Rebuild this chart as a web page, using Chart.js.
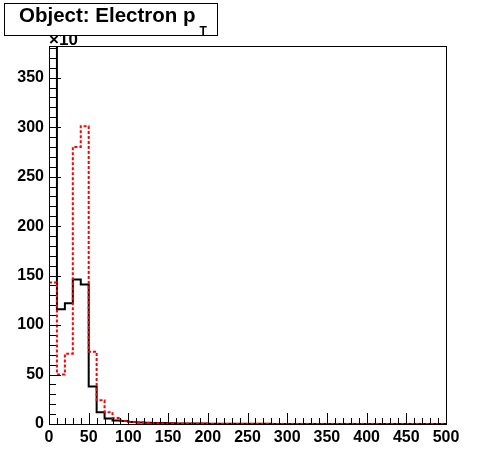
<!DOCTYPE html>
<html>
<head>
<meta charset="utf-8">
<script src="https://cdn.jsdelivr.net/npm/chart.js@4"></script>
<style>
  html, body { margin: 0; padding: 0; background: #fff; }
  #wrap { width: 496px; height: 472px; position: relative; }
</style>
</head>
<body>
<div id="wrap"><canvas id="ptChart"></canvas></div>
<script>
// Histogram binning: 50 bins of width 10 GeV from 0 to 500
const binWidth = 10;
const binEdges = Array.from({ length: 51 }, (_, i) => i * binWidth);

// Black solid histogram (bin 0 goes off the top of the frame)
const blackCounts = [
    420, 116, 122, 146, 141, 38, 12, 5.5, 3.5, 3,
    2, 1.6, 1.3, 1.1, 0.9, 0.7, 0.6, 0.5, 0.4, 0.4,
    0.3, 0.3, 0.3, 0.2, 0.2, 0.2, 0.2, 0.2, 0.1, 0.1,
    0.1, 0.1, 0.1, 0.1, 0.1, 0.1, 0.1, 0.1, 0.1, 0.1,
    0.1, 0.1, 0.1, 0.1, 0.1, 0.1, 0.1, 0.1, 0.1, 0.1
];

// Red dotted histogram
const redCounts = [
    143, 50, 71, 280, 301, 73, 24, 12, 6, 3,
    2, 1.4, 1, 0.7, 0.5, 0.4, 0.3, 0.2, 0.2, 0.2,
    0.1, 0.1, 0.1, 0.1, 0.1, 0, 0, 0, 0, 0,
    0, 0, 0, 0, 0, 0, 0, 0, 0, 0,
    0, 0, 0, 0, 0, 0, 0, 0, 0, 0
];

const xTicks = [0, 50, 100, 150, 200, 250, 300, 350, 400, 450, 500];
const yTicks = [0, 50, 100, 150, 200, 250, 300, 350];

const titleText = 'Object: Electron p';
const titleSub = 'T';
const yExponent = '\u00d710';

// step points: left edge of each bin, plus closing point at the last edge
function toSteps(counts) {
    const pts = counts.map((c, i) => ({ x: binEdges[i], y: c }));
    pts.push({ x: binEdges[counts.length], y: counts[counts.length - 1] });
    return pts;
}

const FONT = '"Liberation Sans", Arial, Helvetica, sans-serif';

// ROOT-like frame with inward ticks, title box and axis exponent
const rootFrame = {
    id: 'rootFrame',
    afterDraw(chart) {
        const { ctx, chartArea: a, scales } = chart;
        const xs = scales.x, ys = scales.y;
        ctx.save();
        ctx.strokeStyle = '#000';
        ctx.lineWidth = 1;
        ctx.strokeRect(Math.round(a.left) + 0.5, Math.round(a.top) + 0.5,
            Math.round(a.right - a.left), Math.round(a.bottom - a.top));

        ctx.beginPath();
        for (let v = 0; v <= 500; v += 10) {
            const px = Math.round(xs.getPixelForValue(v)) + 0.5;
            const len = v % 50 === 0 ? 11 : 6;
            ctx.moveTo(px, a.bottom);
            ctx.lineTo(px, a.bottom - len);
        }
        for (let v = 0; v <= ys.max; v += 10) {
            const py = Math.round(ys.getPixelForValue(v)) + 0.5;
            const len = v % 50 === 0 ? 12 : 7;
            ctx.moveTo(a.left, py);
            ctx.lineTo(a.left + len, py);
        }
        ctx.stroke();

        // exponent label, partly hidden under the title box
        ctx.fillStyle = '#000';
        ctx.font = 'bold 17px ' + FONT;
        ctx.textBaseline = 'alphabetic';
        ctx.textAlign = 'left';
        ctx.fillText(yExponent, 49, 45);

        // title box
        ctx.fillStyle = '#fff';
        ctx.fillRect(4.5, 3.5, 213, 32);
        ctx.strokeRect(4.5, 3.5, 213, 32);
        ctx.fillStyle = '#000';
        ctx.font = 'bold 20.5px ' + FONT;
        ctx.fillText(titleText, 19, 22);
        const w = ctx.measureText(titleText).width;
        ctx.font = 'bold 12px ' + FONT;
        ctx.fillText(titleSub, 19 + w + 4, 35);
        ctx.restore();
    }
};

new Chart(document.getElementById('ptChart'), {
    type: 'line',
    data: {
        datasets: [
            {
                label: 'red',
                data: toSteps(redCounts),
                borderColor: '#ff0000',
                borderWidth: 2,
                borderDash: [3, 2],
                stepped: 'before',
                pointRadius: 0,
                fill: false,
                order: 0
            },
            {
                label: 'black',
                data: toSteps(blackCounts),
                borderColor: '#000000',
                borderWidth: 2,
                stepped: 'before',
                pointRadius: 0,
                fill: false,
                order: 1
            }
        ]
    },
    options: {
        responsive: true,
        maintainAspectRatio: false,
        animation: false,
        layout: { padding: { left: 0, right: 50, top: 46, bottom: 0 } },
        plugins: {
            legend: { display: false },
            tooltip: { enabled: false }
        },
        scales: {
            x: {
                type: 'linear',
                min: 0,
                max: 500,
                grid: { display: false, drawTicks: false },
                border: { display: false },
                afterFit: s => { s.height = 48; },
                afterBuildTicks: s => { s.ticks = xTicks.map(v => ({ value: v })); },
                ticks: {
                    color: '#000',
                    padding: 4,
                    maxRotation: 0,
                    autoSkip: false,
                    font: { family: FONT, size: 16, weight: 'bold' }
                }
            },
            y: {
                type: 'linear',
                min: 0,
                max: 382,
                grid: { display: false, drawTicks: false },
                border: { display: false },
                afterFit: s => { s.width = 49; },
                afterBuildTicks: s => { s.ticks = yTicks.map(v => ({ value: v })); },
                ticks: {
                    color: '#000',
                    padding: 5,
                    autoSkip: false,
                    font: { family: FONT, size: 16, weight: 'bold' }
                }
            }
        }
    },
    plugins: [rootFrame]
});
</script>
</body>
</html>
